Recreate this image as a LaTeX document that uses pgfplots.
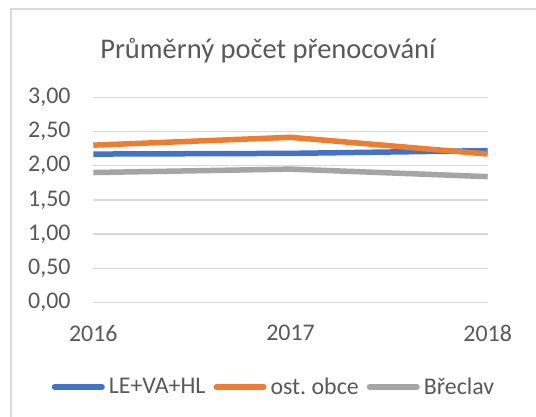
\documentclass[border=0pt]{standalone}
\usepackage{pgfplots}
\pgfplotsset{compat=1.18}
\usepackage{fontspec}
\setmainfont{Carlito}
\frenchspacing
\definecolor{txt}{HTML}{595959}
\definecolor{grd}{HTML}{D9D9D9}
\definecolor{cblue}{HTML}{4472C4}
\definecolor{corange}{HTML}{ED7D31}
\definecolor{cgray}{HTML}{A5A5A5}
\begin{document}
\begin{tikzpicture}
\useasboundingbox (0pt,0pt) rectangle (536pt,417pt);
\fill[white] (0pt,0pt) rectangle (536pt,417pt);
\draw[grd, line width=1.3pt] (11pt,-5pt) -- (11pt,408pt) -- (545pt,408pt);
\node[anchor=base, text=txt, font=\fontsize{28.5}{34}\selectfont] at (268pt,358.7pt) {Průměrný počet přenocování};
\begin{axis}[
  scale only axis, width=394.4pt, height=205.2pt,
  at={(93.3pt,114.5pt)}, anchor=south west,
  xmin=2016, xmax=2018, ymin=0, ymax=3,
  xtick={2016,2017,2018}, ytick={0,0.5,1,1.5,2,2.5,3},
  major tick length=0pt,
  axis line style={draw=none},
  ymajorgrids, major grid style={grd, line width=1.5pt},
  clip=false,
  ticklabel style={font=\fontsize{23.9}{28}\selectfont, text=txt, inner sep=0pt},
  /pgf/number format/assume math mode=true,
  xticklabel style={anchor=north, yshift=-22.5pt, /pgf/number format/1000 sep={}},
  yticklabel style={anchor=east, xshift=-22.6pt, /pgf/number format/.cd, fixed, fixed zerofill, precision=2, use comma},
  legend columns=3,
  legend cell align=left,
  legend style={at={(0.4556,-0.4118)}, anchor=center, draw=none, fill=none, inner sep=0pt,
    font=\fontsize{23.9}{28}\selectfont\frenchspacing, text=txt,
    /tikz/every odd column/.append style={column sep=4pt},
    /tikz/every even column/.append style={column sep=8pt},
    nodes={inner sep=0pt}},
  legend image code/.code={\draw[#1, line cap=round] (2.75pt,0pt) -- (50.25pt,0pt);},
]
\addplot[cblue, line width=5.5pt, line join=round] coordinates {(2016,2.17) (2017,2.18) (2018,2.22)};
\addlegendentry{LE+VA+HL}
\addplot[corange, line width=5.5pt, line join=round] coordinates {(2016,2.30) (2017,2.415) (2018,2.17)};
\addlegendentry{ost. obce}
\addplot[cgray, line width=5.5pt, line join=round] coordinates {(2016,1.90) (2017,1.95) (2018,1.84)};
\addlegendentry{Břeclav}
\end{axis}
\end{tikzpicture}
\end{document}
